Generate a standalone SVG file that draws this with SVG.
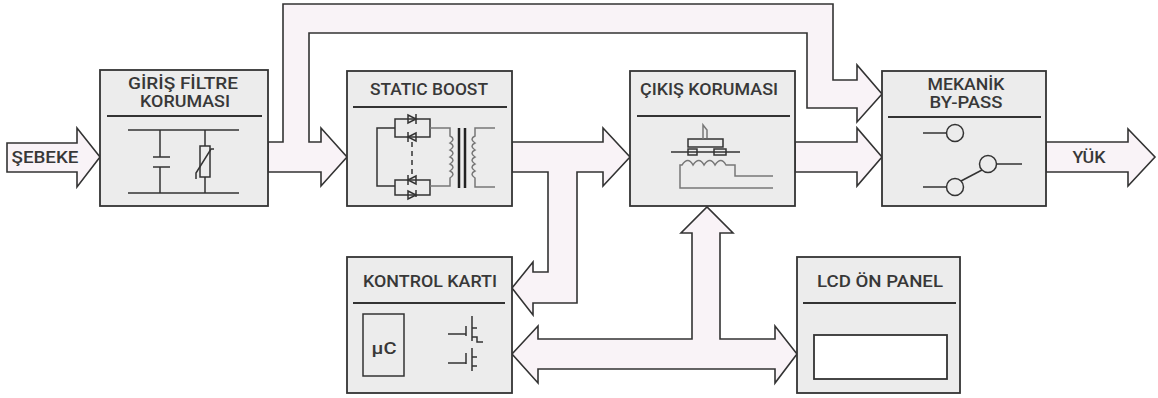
<svg xmlns="http://www.w3.org/2000/svg" width="1158" height="398" viewBox="0 0 1158 398">
<style>
.box{fill:#ececec;stroke:#333;stroke-width:1.8}
.sep{stroke:#333;stroke-width:1.8}
.arr{fill:#f9f3f7;stroke:#333;stroke-width:1.6;stroke-linejoin:miter}
.w{fill:none;stroke:#333;stroke-width:1.5}
.g{fill:none;stroke:#777;stroke-width:1.5}
.t{font-family:Roboto,"Liberation Sans",sans-serif;font-size:17px;font-weight:500;fill:#383838;text-anchor:middle}
</style>
<rect width="1158" height="398" fill="#ffffff"/>
<g id="connectors">
<polygon class="arr" points="7,143 77,143 77,128 100,157 77,187 77,172 7,172"/>
<polygon class="arr" points="268,142 283,142 283,4 833,4 833,80 857,80 857,65 882,94 857,122 857,108 807,108 807,33 309,33 309,142 321,142 321,128 347,157 321,186 321,172 268,172"/>
<polygon class="arr" points="512,142 603,142 603,128 630,157 603,186 603,172 577,172 577,303 533,303 533,315 512,288 533,262 533,272 548,272 548,172 512,172"/>
<polygon class="arr" points="795,142 857,142 857,128 882,157 857,186 857,172 795,172"/>
<polygon class="arr" points="1046,142 1128,142 1128,129 1155,157 1128,186 1128,172 1046,172"/>
<polygon class="arr" points="512,354 538,326 538,339 692,339 692,233 681,233 707,207 733,233 720,233 720,339 775,339 775,326 797,354 775,383 775,369 538,369 538,383"/>
</g>
<g id="sebeke-label"><text class="t" x="45" y="163" textLength="67" lengthAdjust="spacingAndGlyphs">ŞEBEKE</text></g>
<g id="yuk-label"><text class="t" x="1089" y="163" textLength="33" lengthAdjust="spacingAndGlyphs">YÜK</text></g>
<g id="giris-filtre">
<rect class="box" x="100" y="70" width="168" height="136"/>
<text class="t"><tspan x="183" y="89" textLength="110" lengthAdjust="spacingAndGlyphs">GİRİŞ FİLTRE</tspan><tspan x="185" y="107" textLength="90" lengthAdjust="spacingAndGlyphs">KORUMASI</tspan></text>
<line class="sep" x1="107" y1="116" x2="262" y2="116"/>
<line class="w" x1="128" y1="130" x2="239" y2="130"/>
<line class="w" x1="128" y1="193" x2="239" y2="193"/>
<path class="w" d="M160,130V157M153,157H170M153,167H170M160,167V193"/>
<path class="w" d="M205,130V146M205,177V193"/>
<rect class="w" x="200" y="146" width="10" height="31"/>
<path class="w" d="M196,179V173L211,149H214"/>
</g>
<g id="static-boost">
<rect class="box" x="347" y="71" width="165" height="135"/>
<text class="t" x="429" y="95" textLength="118" lengthAdjust="spacingAndGlyphs">STATIC BOOST</text>
<line class="sep" x1="353" y1="107" x2="507" y2="107"/>
<path class="w" d="M395,128H377V186H395"/>
<rect class="w" x="395" y="119" width="35" height="18"/>
<rect class="w" x="395" y="180" width="35" height="15"/>
<path class="w" d="M408,115L416,119L408,123Z M416,114V124 M416,133L408,137L416,141Z M408,132V142"/>
<path class="w" d="M416,176L408,180L416,184Z M408,175V185 M408,191L416,195L408,199Z M416,190V197"/>
<line class="w" x1="412" y1="142" x2="412" y2="176" stroke-dasharray="5,4"/>
<path class="g" d="M430,128H450V136 q6,3 0,7 q6,3 0,7 q6,3 0,7 q6,3 0,7 q6,3 0,7 q6,3 0,7V186H430"/>
<line x1="459" y1="128" x2="459" y2="188" stroke="#222" stroke-width="2.5"/>
<line x1="465" y1="128" x2="465" y2="188" stroke="#222" stroke-width="2.5"/>
<path class="g" d="M495,128H475V136 q-6,3 0,7 q-6,3 0,7 q-6,3 0,7 q-6,3 0,7 q-6,3 0,7 q-6,3 0,7V187H495"/>
</g>
<g id="cikis-korumasi">
<rect class="box" x="630" y="71" width="165" height="135"/>
<text class="t" x="709" y="95" textLength="138" lengthAdjust="spacingAndGlyphs">ÇIKIŞ KORUMASI</text>
<line class="sep" x1="637" y1="116" x2="790" y2="116"/>
<rect class="w" x="688" y="139" width="35" height="8"/>
<path class="g" d="M703,139V125L707,130V138"/>
<line class="w" x1="671" y1="152" x2="740" y2="152"/>
<rect class="w" x="688" y="149" width="9" height="6" fill="#ececec"/>
<rect class="w" x="714" y="149" width="12" height="6" fill="#ececec"/>
<path class="g" d="M773,188H680V165H682 q6,-9 11,0 q6,-9 11,0 q6,-9 11,0 q6,-9 11,0H735V176H773"/>
</g>
<g id="mekanik-bypass">
<rect class="box" x="882" y="71" width="164" height="135"/>
<text class="t"><tspan x="966" y="90" textLength="77" lengthAdjust="spacingAndGlyphs">MEKANİK</tspan><tspan x="966" y="108" textLength="73" lengthAdjust="spacingAndGlyphs">BY-PASS</tspan></text>
<line class="sep" x1="888" y1="117" x2="1041" y2="117"/>
<line class="w" x1="923" y1="133" x2="946" y2="133"/>
<circle class="w" cx="955" cy="133" r="8.5"/>
<line class="w" x1="923" y1="187" x2="946" y2="187"/>
<circle class="w" cx="955" cy="187" r="8.5"/>
<line class="w" x1="961" y1="181" x2="982" y2="170"/>
<circle class="w" cx="988" cy="164" r="8.5"/>
<line class="w" x1="997" y1="164" x2="1022" y2="164"/>
</g>
<g id="kontrol-karti">
<rect class="box" x="347" y="257" width="165" height="136"/>
<text class="t" x="430" y="287" textLength="134" lengthAdjust="spacingAndGlyphs">KONTROL KARTI</text>
<line class="sep" x1="353" y1="303" x2="505" y2="303"/>
<rect class="w" x="363" y="314" width="41" height="62"/>
<text class="t" x="384" y="354" textLength="25" lengthAdjust="spacingAndGlyphs">µC</text>
<path class="w" d="M448,334H466M466,326V336M472,316V341M472,328H477M472,337H477V342H483"/>
<path class="w" d="M448,363H466M466,353V364M472,348V371M472,357H477M472,366H477"/>
</g>
<g id="lcd-on-panel">
<rect class="box" x="797" y="257" width="163" height="136"/>
<text class="t" x="880" y="287" textLength="126" lengthAdjust="spacingAndGlyphs">LCD ÖN PANEL</text>
<line class="sep" x1="803" y1="303" x2="956" y2="303"/>
<rect x="814" y="335" width="133" height="44" fill="#ffffff" stroke="#333" stroke-width="1.8"/>
</g>
</svg>
